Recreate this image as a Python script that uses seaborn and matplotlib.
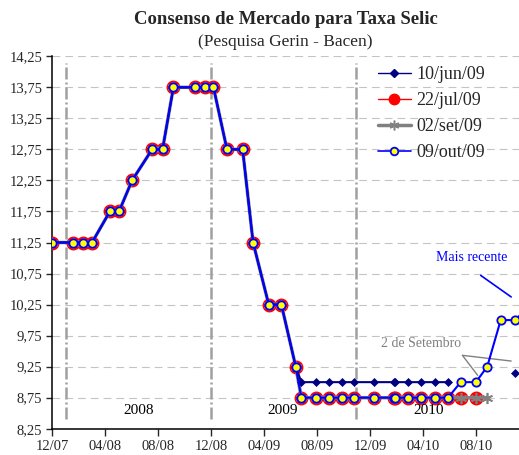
import numpy as np
import pandas as pd
import seaborn as sns
import matplotlib.pyplot as plt
import matplotlib.dates as mdates
from matplotlib.lines import Line2D

# datas das observacoes
datas = ["2007-12-01", "2008-01-18", "2008-02-10", "2008-03-02", "2008-04-12",
         "2008-05-03", "2008-06-02", "2008-07-18", "2008-08-11", "2008-09-05",
         "2008-10-25", "2008-11-17", "2008-12-06", "2009-01-06", "2009-02-11",
         "2009-03-07", "2009-04-12", "2009-05-11", "2009-06-13", "2009-06-26",
         "2009-07-29", "2009-08-28", "2009-09-27", "2009-10-25", "2009-12-10",
         "2010-01-25", "2010-01-28", "2010-02-25", "2010-03-28", "2010-04-28",
         "2010-05-29", "2010-06-27", "2010-08-01", "2010-08-27", "2010-09-27",
         "2010-10-29", "2010-12-08"]

historico = [11.25, 11.25, 11.25, 11.25, 11.75, 11.75, 12.25, 12.75, 12.75, 13.75,
             13.75, 13.75, 13.75, 12.75, 12.75, 11.25, 10.25, 10.25, 9.25]

nan = np.nan
jun_09 = historico + [9.0] * 12 + [nan, nan, nan, nan, 9.15, nan]
jul_09 = historico + [8.75] * 14 + [nan, nan, nan, nan]
set_09 = historico + [8.75] * 15 + [nan, nan, nan]
out_09 = historico + [8.75] * 12 + [9.0, 9.0, 9.25, 10.0, 10.0, 10.25]

rotulos = ["10/jun/09", "22/jul/09", "02/set/09", "09/out/09"]

anos = ["2008", "2009", "2010"]
anos_x = ["2008-06-18", "2009-05-15", "2010-04-15"]
divisoes = ["2008-01-03", "2008-12-01", "2009-10-29"]

linhas = []
for nome, vals in zip(rotulos, [jun_09, jul_09, set_09, out_09]):
    linhas.append(pd.DataFrame({"data": pd.to_datetime(datas), "taxa": vals, "serie": nome}))
df = pd.concat(linhas, ignore_index=True)
df["seg"] = df.groupby("serie")["taxa"].transform(lambda s: s.isna().cumsum())
df = df.dropna(subset=["taxa"])

sns.set_theme(style="white")
plt.rcParams["font.family"] = ["Liberation Serif", "DejaVu Serif"]

fig = plt.figure(figsize=(5.19, 4.55), dpi=100)
ax = fig.add_axes([52 / 519, 26.3 / 455, 1 - 52 / 519, 372.4 / 455])

estilos = {
    "22/jul/09": dict(color="#ff0000", lw=1.0, marker="o", markersize=9,
                      markerfacecolor="#ff0000", markeredgecolor="#ff0000",
                      markeredgewidth=1, zorder=3),
    "02/set/09": dict(color="#808080", lw=2.5, marker=(6, 2, 0), markersize=8,
                      markerfacecolor="#808080", markeredgecolor="#808080",
                      markeredgewidth=1.2, zorder=4),
    "10/jun/09": dict(color="#000080", lw=1.5, marker="D", markersize=4,
                      markerfacecolor="#000080", markeredgecolor="#000080",
                      markeredgewidth=0.5, zorder=5),
    "09/out/09": dict(color="#0000ff", lw=1.5, marker="o", markersize=6,
                      markerfacecolor="#ffff00", markeredgecolor="#0000ff",
                      markeredgewidth=1.3, zorder=6),
}

for nome in ["22/jul/09", "02/set/09", "10/jun/09", "09/out/09"]:
    sub = df[df["serie"] == nome]
    sns.lineplot(data=sub, x="data", y="taxa", units="seg", estimator=None,
                 ax=ax, **estilos[nome])

# grade e eixos
yt = np.arange(8.25, 14.26, 0.5)
ax.set_yticks(yt)
ax.set_yticklabels([f"{v:.2f}".replace(".", ",") for v in yt], fontsize=10.5)
ax.set_ylim(8.25, 14.25)
ax.set_xlim(pd.Timestamp("2007-12-01"), pd.Timestamp("2010-11-08"))
ax.xaxis.set_major_locator(mdates.MonthLocator(bymonth=[4, 8, 12]))
ax.xaxis.set_major_formatter(mdates.DateFormatter("%m/%y"))
ax.tick_params(axis="x", labelsize=10.5, length=5, width=1, direction="out", bottom=True, pad=3)
ax.tick_params(axis="y", length=4, width=1, direction="out", left=True, pad=3)
ax.yaxis.grid(True, color="#c4c4c4", lw=0.8, linestyle=(0, (7, 4.5)))
ax.xaxis.grid(False)
ax.set_xlabel("")
ax.set_ylabel("")
for s in ["top", "right"]:
    ax.spines[s].set_visible(False)
for s in ["left", "bottom"]:
    ax.spines[s].set_color("black")
    ax.spines[s].set_linewidth(1.1)

# divisoes de ano
ax.vlines(pd.to_datetime(divisoes), 8.41, 14.14, color="#a0a0a0", lw=1.8,
          linestyle=(0, (4.8, 1.2, 0.8, 1.2)), zorder=2)
for txt, xd in zip(anos, anos_x):
    ax.text(mdates.date2num(pd.Timestamp(xd)), 8.55, txt, ha="center", va="center",
            fontsize=11, color="black")

# anotacoes
d = lambda s: mdates.date2num(pd.Timestamp(s))
ax.text(d("2010-07-22"), 11.01, "Mais recente", color="#0000ff", fontsize=10,
        ha="center", va="center")
ax.annotate("", xy=(d("2010-10-21"), 10.373), xytext=(d("2010-08-12"), 10.72),
            arrowprops=dict(arrowstyle="-", color="#0000ff", lw=1.2, shrinkA=0, shrinkB=0))
ax.text(d("2010-03-28"), 9.63, "2 de Setembro", color="#808080", fontsize=10,
        ha="center", va="center")
ax.annotate("", xy=(d("2010-08-05"), 9.11), xytext=(d("2010-07-01"), 9.432),
            arrowprops=dict(arrowstyle="-", color="#808080", lw=1.0, shrinkA=0, shrinkB=0))
ax.annotate("", xy=(d("2010-10-21"), 9.34), xytext=(d("2010-07-01"), 9.432),
            arrowprops=dict(arrowstyle="-", color="#808080", lw=1.0, shrinkA=0, shrinkB=0))

# legenda
handles = [
    Line2D([], [], color="#000080", lw=1.0, marker="D", markersize=4),
    Line2D([], [], color="#ff0000", lw=1.0, marker="o", markersize=7.5),
    Line2D([], [], color="#808080", lw=2.5, marker=(6, 2, 0), markersize=7, markeredgewidth=1.1),
    Line2D([], [], color="#0000ff", lw=1.2, marker="o", markersize=5.5,
           markerfacecolor="#ffff00", markeredgecolor="#0000ff", markeredgewidth=1.3),
]
ax.legend(handles, rotulos, loc="upper left", bbox_to_anchor=(378 / 519, 1 - 66 / 455),
          bbox_transform=fig.transFigure, frameon=False, fontsize=13, handlelength=1.8,
          handletextpad=0.3, labelspacing=0.5, borderpad=0, borderaxespad=0)

centro = (52 + 519) / 2 / 519
fig.text(centro, 1 - 20 / 455, "Consenso de Mercado para Taxa Selic", ha="center",
         va="center", fontsize=13.5, fontweight="bold")
fig.text(centro, 1 - 42 / 455, "(Pesquisa Gerin - Bacen)", ha="center", va="center",
         fontsize=12.5)

fig.savefig("out.png", dpi=100)
